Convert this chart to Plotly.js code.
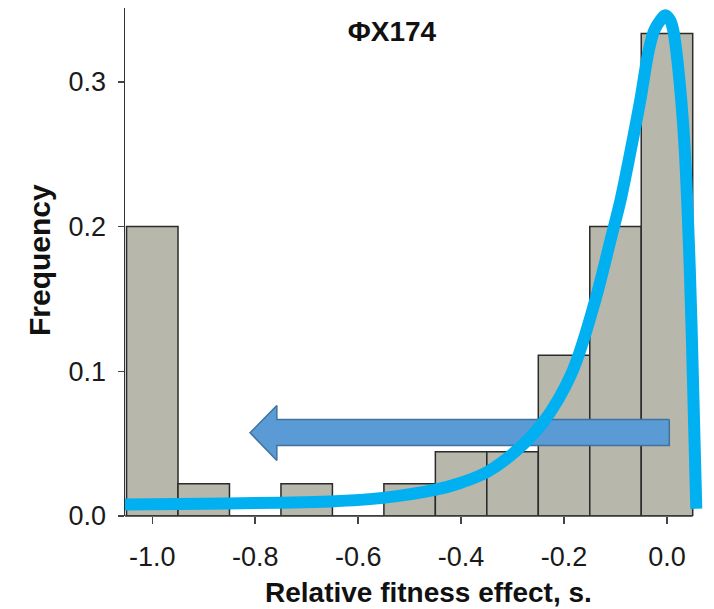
<!DOCTYPE html>
<html>
<head>
<meta charset="utf-8">
<script src="https://cdn.plot.ly/plotly-3.0.1.min.js"></script>
<style>
  html, body { margin: 0; padding: 0; background: #fff; }
  #chart { width: 714px; height: 609px; }
</style>
</head>
<body>
<div id="chart"></div>
<script>
// Histogram of relative fitness effects (bin centres, width 0.1)
const binCenters = [-1.0, -0.9, -0.8, -0.7, -0.6, -0.5, -0.4, -0.3, -0.2, -0.1, 0.0];
const frequency  = [0.2, 0.0222, 0, 0.0222, 0, 0.0222, 0.0444, 0.0444, 0.1111, 0.2, 0.3333];

// Fitted distribution curve (s, density-scaled frequency)
const curveS = [-1.06, -0.9, -0.75, -0.655, -0.552, -0.454, -0.40, -0.349, -0.293, -0.240,
                -0.186, -0.141, -0.108, -0.091, -0.0705, -0.052, -0.0354, -0.0247, -0.013,
                -0.0033, 0.0064, 0.0122, 0.018, 0.0278, 0.0346, 0.0424, 0.048, 0.057];
const curveF = [0.008, 0.0085, 0.0092, 0.010, 0.0125, 0.0178, 0.023, 0.0305, 0.045, 0.065,
                0.098, 0.147, 0.193, 0.217, 0.2526, 0.287, 0.3217, 0.3355, 0.3424,
                0.346, 0.3424, 0.3355, 0.3217, 0.287, 0.2526, 0.190, 0.128, 0.005];

// Tick labels
const xTickVals = [-1.0, -0.8, -0.6, -0.4, -0.2, 0.0];
const xTickText = ['-1.0', '-0.8', '-0.6', '-0.4', '-0.2', '0.0'];
const yTickVals = [0, 0.1, 0.2, 0.3];
const yTickText = ['0.0', '0.1', '0.2', '0.3'];

// Block arrow outline pointing towards deleterious effects
const arrowX = [0.0045, -0.758, -0.758, -0.810, -0.758, -0.758, 0.0045, 0.0045];
const arrowY = [0.0667, 0.0667, 0.0764, 0.0575, 0.0384, 0.0487, 0.0487, 0.0667];

const FONT = 'Liberation Sans, Arial, Helvetica, sans-serif';
const X_RANGE = [-1.053, 0.07];

const traces = [
  {
    type: 'bar',
    x: binCenters,
    y: frequency,
    width: 0.1,
    marker: { color: '#b7b7ab', line: { color: '#2b2b2b', width: 1.5 } },
    hoverinfo: 'x+y'
  },
  {
    type: 'scatter',
    mode: 'lines',
    x: arrowX,
    y: arrowY,
    fill: 'toself',
    fillcolor: '#5b9bd5',
    line: { color: '#41719c', width: 1.5 },
    hoverinfo: 'skip'
  },
  {
    type: 'scatter',
    mode: 'lines',
    x: curveS,
    y: curveF,
    line: { color: '#00b0f0', width: 12, shape: 'spline', smoothing: 1 },
    hoverinfo: 'skip'
  }
];

const layout = {
  width: 714,
  height: 609,
  margin: { l: 125, r: 11, t: 8, b: 93 },
  paper_bgcolor: '#ffffff',
  plot_bgcolor: '#ffffff',
  showlegend: false,
  bargap: 0,
  font: { family: FONT, color: '#1a1a1a' },
  title: {
    text: 'ΦX174',
    x: 392 / 714,
    xanchor: 'center',
    y: 1 - 31 / 609,
    yanchor: 'middle',
    font: { family: FONT, size: 28, weight: 'bold', color: '#111' }
  },
  xaxis: {
    range: X_RANGE,
    showgrid: false,
    zeroline: false,
    showline: false,
    ticks: 'outside',
    ticklen: 7,
    tickwidth: 1.5,
    tickcolor: '#444',
    tickvals: xTickVals,
    ticktext: xTickText,
    ticklabelstandoff: 10,
    tickfont: { family: FONT, size: 27, color: '#1a1a1a' },
    fixedrange: true
  },
  yaxis: {
    range: [0, 0.351],
    showgrid: false,
    zeroline: false,
    showline: true,
    linecolor: '#333',
    linewidth: 1.5,
    ticks: 'outside',
    ticklen: 6,
    tickwidth: 1.5,
    tickcolor: '#444',
    tickvals: yTickVals,
    ticktext: yTickText,
    ticklabelstandoff: 6,
    tickfont: { family: FONT, size: 27, color: '#1a1a1a' },
    fixedrange: true
  },
  shapes: [
    {
      type: 'line',
      xref: 'paper', yref: 'paper',
      x0: 0, x1: (0.05 - X_RANGE[0]) / (X_RANGE[1] - X_RANGE[0]),
      y0: 0, y1: 0,
      line: { color: '#333', width: 1.5 }
    }
  ],
  annotations: [
    {
      text: 'Relative fitness effect, s.',
      xref: 'paper', yref: 'paper',
      x: (428 - 125) / 578, y: (516 - 592) / 508,
      xanchor: 'center', yanchor: 'middle',
      showarrow: false,
      font: { family: FONT, size: 28, weight: 'bold', color: '#111' }
    },
    {
      text: 'Frequency',
      xref: 'paper', yref: 'paper',
      x: (39 - 125) / 578, y: (516 - 260) / 508,
      xanchor: 'center', yanchor: 'middle',
      textangle: -90,
      showarrow: false,
      font: { family: FONT, size: 30, weight: 'bold', color: '#111' }
    }
  ]
};

Plotly.newPlot('chart', traces, layout, { displayModeBar: false, staticPlot: true });
</script>
</body>
</html>
